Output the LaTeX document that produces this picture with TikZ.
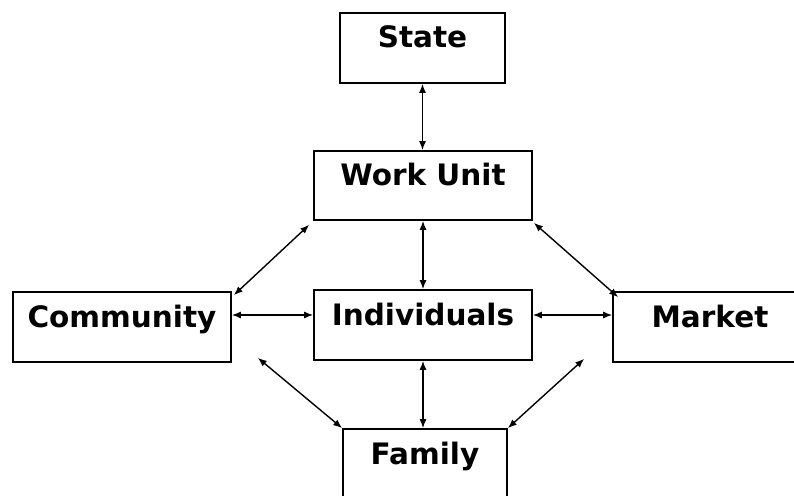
\documentclass[tikz,border=0pt]{standalone}
\usepackage{fontspec}
\setmainfont{DejaVu Sans}
\usetikzlibrary{arrows.meta, positioning}

\begin{document}
\begin{tikzpicture}[
    x=1pt, y=-1pt,
    box/.style={rectangle, draw, line width=1.6pt, minimum width=218pt, minimum height=70pt,
        inner sep=0pt, font=\fontsize{29.5}{30}\selectfont\bfseries, text height=0.5em, text depth=0.5em},
    link/.style={draw, line width=1.4pt, {Latex[length=9pt, width=7pt]}-{Latex[length=9pt, width=7pt]}}
]
    \clip (0,0) rectangle (794,495);
    % Boxes
    \node[box, minimum width=165pt] (state) at (422.5,48) {State};
    \node[box, minimum height=69pt] (unit) at (423,185.5) {Work Unit};
    \node[box] (comm) at (122,327) {Community};
    \node[box] (indiv) at (423,325) {Individuals};
    \node[box, minimum width=194pt] (market) at (710,327) {Market};
    \node[box, minimum width=164pt] (family) at (425,464) {Family};

    % Links
    \draw[link] (state.south) -- (state.south |- unit.north);
    \draw[link] (unit.south) -- (unit.south |- indiv.north);
    \draw[link] (indiv.south) -- (indiv.south |- family.north);
    \coordinate (cl) at ([yshift=12pt]comm.east);
    \coordinate (mr) at ([yshift=12pt]market.west);
    \draw[link] (cl) -- (cl -| indiv.west);
    \draw[link] (mr -| indiv.east) -- (mr);
    \draw[link] ([shift={(-4pt,-4pt)}]unit.south west) -- ([shift={(2pt,-4pt)}]comm.north east);
    \draw[link] ([shift={(1pt,-2pt)}]unit.south east) -- ([shift={(6pt,-6pt)}]market.north west);
    \draw[link] ([shift={(26pt,5pt)}]comm.south east) -- (family.north west);
    \draw[link] ([shift={(-28pt,4pt)}]market.south west) -- (family.north east);
\end{tikzpicture}
\end{document}
